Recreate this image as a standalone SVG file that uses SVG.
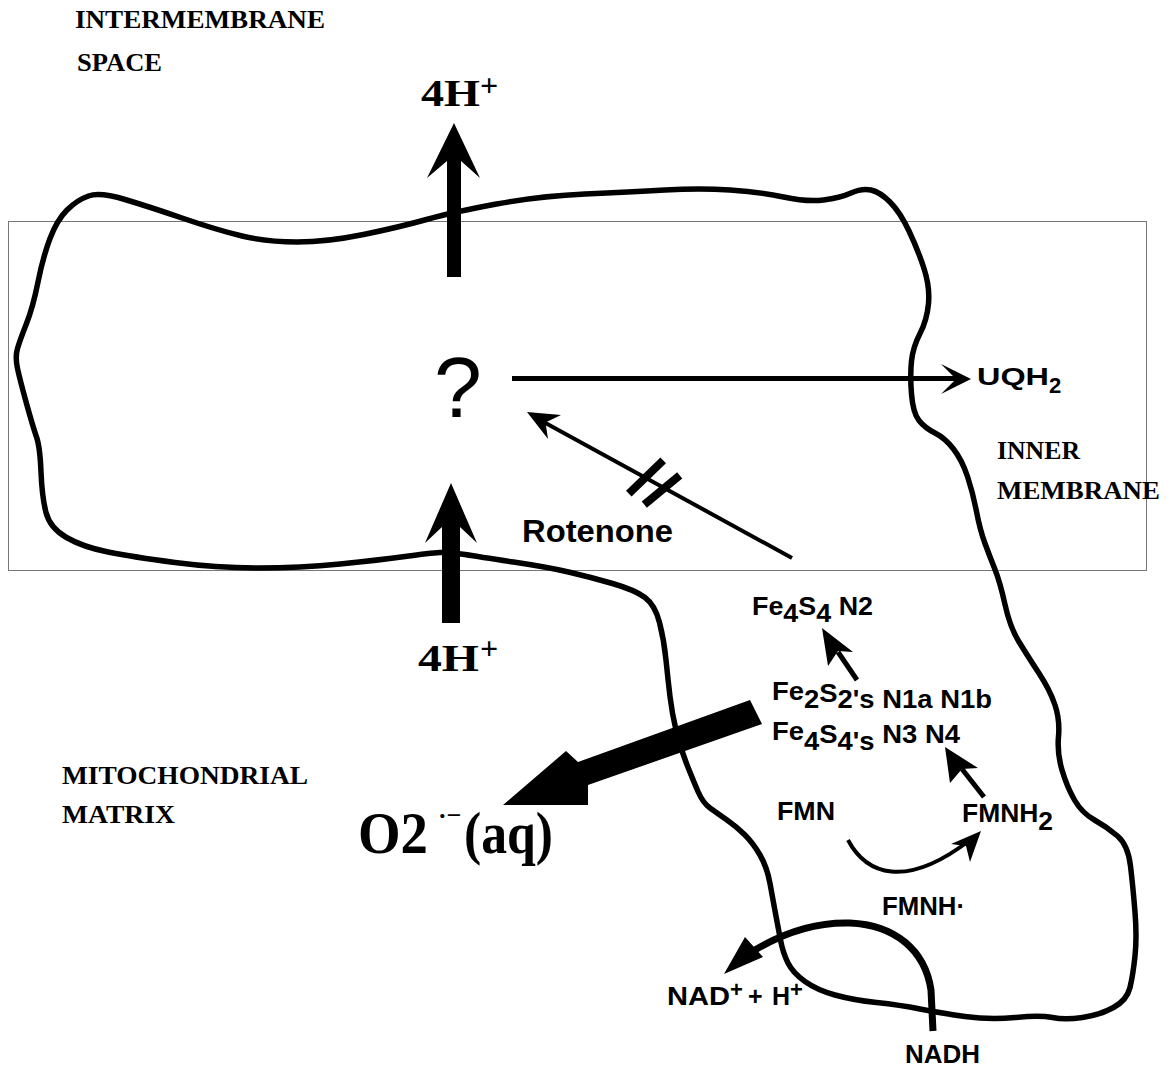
<svg xmlns="http://www.w3.org/2000/svg" width="1169" height="1072" viewBox="0 0 1169 1072">
  <style>
    .serif { font-family: "Liberation Serif", "Times New Roman", serif; font-weight: bold; fill: #000; }
    .sans { font-family: "Liberation Sans", Arial, sans-serif; font-weight: bold; fill: #000; }
    .region { font-size: 26px; }
    .small { font-size: 25px; }
    .line { fill: none; stroke: #000; }
    .solid { fill: #000; stroke: none; }
  </style>

  <rect width="1169" height="1072" fill="#fff"/>

  <!-- inner membrane band -->
  <g id="membrane">
    <rect x="8.5" y="221.5" width="1138" height="349" fill="none" stroke="#777" stroke-width="1"/>
  </g>

  <!-- complex I outline -->
  <g id="complex-outline">
    <path class="line" stroke-width="5.5" stroke-linejoin="round" d="M88.5,196 Q100,192 125,199.5 Q150,207 183.5,218.5 Q217,230 242,236 Q267,242 297,242 Q327,242 363.5,234.5 Q400,227 426.5,219.5 Q453,212 496.5,204 Q540,196 585,194 Q630,192 665,190 Q700,188 730,190 Q760,192 783.5,197 Q807,202 823.5,200 Q840,198 851,193 Q862,188 871,190 Q880,192 890,202 Q900,212 909,231 Q918,250 924,268.5 Q930,287 928.5,303.5 Q927,320 920,333.5 Q913,347 911.5,361 Q910,375 911.5,394 Q913,413 919,420.5 Q925,428 935,433 Q945,438 953.5,449 Q962,460 967.5,476.5 Q973,493 976.5,511.5 Q980,530 985,543.5 Q990,557 995,569.5 Q1000,582 1005,604.5 Q1010,627 1018.5,641 Q1027,655 1038.5,672.5 Q1050,690 1055,705 Q1060,720 1058.5,736.5 Q1057,753 1062,770 Q1067,787 1074.5,800 Q1082,813 1094.5,820 Q1107,827 1117.5,836 Q1128,845 1130.5,866 Q1133,887 1135,912 Q1137,937 1135,956 Q1133,975 1130,987.5 Q1127,1000 1113.5,1007.5 Q1100,1015 1082.5,1017.5 Q1065,1020 1052.5,1017.5 Q1040,1015 1015,1017.5 Q990,1020 965,1016.5 Q940,1013 920,1009 Q900,1005 876.5,1002.5 Q853,1000 835,995 Q817,990 805,981.5 Q793,973 788,963 Q783,953 780.5,940 Q778,927 775.5,913.5 Q773,900 770,883.5 Q767,867 760,855 Q753,843 745,835 Q737,827 727,820 Q717,813 710,808 Q703,803 698,791.5 Q693,780 686.5,763.5 Q680,747 676,730 Q672,713 670,696.5 Q668,680 666,660 Q664,640 659.5,622.5 Q655,605 645,597.5 Q635,590 612.5,583.5 Q590,577 568.5,572 Q547,567 513.5,562 Q480,557 465,554.5 Q450,552 440,552.5 Q430,553 405,556.5 Q380,560 340,564 Q300,568 258.5,568 Q217,568 175,562.5 Q133,557 108,552 Q83,547 66.5,537.5 Q50,528 46,512.5 Q42,497 41,472 Q40,447 36.5,437 Q33,427 26.5,403.5 Q20,380 17.5,368.5 Q15,357 17.5,348.5 Q20,340 26.5,323.5 Q33,307 38,282 Q43,257 50,238.5 Q57,220 67,210 Q77,200 88.5,196 Z"/>
  </g>

  <!-- region labels -->
  <g id="label-intermembrane">
    <text class="serif region" x="75" y="28" textLength="250" lengthAdjust="spacingAndGlyphs">INTERMEMBRANE</text>
    <text class="serif region" x="77" y="71" textLength="85" lengthAdjust="spacingAndGlyphs">SPACE</text>
  </g>
  <g id="label-inner-membrane">
    <text class="serif region" x="997" y="459" textLength="83" lengthAdjust="spacingAndGlyphs">INNER</text>
    <text class="serif region" x="997" y="499" textLength="163" lengthAdjust="spacingAndGlyphs">MEMBRANE</text>
  </g>
  <g id="label-matrix">
    <text class="serif region" x="62" y="784" textLength="246" lengthAdjust="spacingAndGlyphs">MITOCHONDRIAL</text>
    <text class="serif region" x="62" y="823" textLength="113" lengthAdjust="spacingAndGlyphs">MATRIX</text>
  </g>

  <!-- species -->
  <g id="node-h-out">
    <text class="serif" font-size="37" x="421" y="106" textLength="59" lengthAdjust="spacingAndGlyphs">4H</text>
    <text class="serif" font-size="32" x="480" y="96">+</text>
  </g>
  <g id="node-h-in">
    <text class="serif" font-size="37" x="418" y="671" textLength="61" lengthAdjust="spacingAndGlyphs">4H</text>
    <text class="serif" font-size="32" x="480" y="659">+</text>
  </g>
  <g id="node-unknown">
    <text x="458" y="417" text-anchor="middle" font-family="Liberation Sans, Arial, sans-serif" font-size="86">?</text>
  </g>
  <g id="node-uqh2">
    <text class="sans" font-size="24" x="977" y="385" textLength="72" lengthAdjust="spacingAndGlyphs">UQH</text>
    <text class="sans" font-size="22" x="1049" y="393">2</text>
  </g>
  <g id="node-rotenone">
    <text class="sans" font-size="31" x="522" y="542" textLength="151" lengthAdjust="spacingAndGlyphs">Rotenone</text>
  </g>
  <g id="node-n2">
    <text class="sans small" x="752" y="615" textLength="121" lengthAdjust="spacingAndGlyphs">Fe<tspan dy="7">4</tspan><tspan dy="-7">S</tspan><tspan dy="7">4</tspan><tspan dy="-7"> N2</tspan></text>
  </g>
  <g id="node-fes-clusters">
    <text class="sans small" x="772" y="700" textLength="220" lengthAdjust="spacingAndGlyphs">Fe<tspan dy="8">2</tspan><tspan dy="-6">S</tspan><tspan dy="6">2's N1a N1b</tspan></text>
    <text class="sans small" x="772" y="740" textLength="188" lengthAdjust="spacingAndGlyphs">Fe<tspan dy="10">4</tspan><tspan dy="-7">S</tspan><tspan dy="7">4's</tspan><tspan dy="-7"> N3 N4</tspan></text>
  </g>
  <g id="node-fmn">
    <text class="sans small" x="777" y="820" textLength="58" lengthAdjust="spacingAndGlyphs">FMN</text>
  </g>
  <g id="node-fmnh2">
    <text class="sans small" x="962" y="822" textLength="91" lengthAdjust="spacingAndGlyphs">FMNH<tspan dy="8">2</tspan></text>
  </g>
  <g id="node-fmnh-radical">
    <text class="sans small" x="882" y="915" textLength="83" lengthAdjust="spacingAndGlyphs">FMNH·</text>
  </g>
  <g id="node-nad">
    <text class="sans small" x="667" y="1005" textLength="63" lengthAdjust="spacingAndGlyphs">NAD</text>
    <text class="sans" font-size="22" x="730" y="997">+</text>
    <text class="sans small" x="748" y="1005">+</text>
    <text class="sans small" x="772" y="1005">H</text>
    <text class="sans" font-size="22" x="790" y="997">+</text>
  </g>
  <g id="node-superoxide">
    <text class="serif" font-size="60" x="358" y="853" textLength="70" lengthAdjust="spacingAndGlyphs">O2</text>
    <text class="serif" font-size="26" x="438" y="824">·−</text>
    <text class="serif" font-size="60" x="464" y="853" textLength="89" lengthAdjust="spacingAndGlyphs">(aq)</text>
  </g>
  <g id="node-nadh">
    <text class="sans small" x="905" y="1063" textLength="75" lengthAdjust="spacingAndGlyphs">NADH</text>
  </g>

  <!-- connectors -->
  <g id="connectors">
    <!-- proton pumping -->
    <polygon class="solid" points="454,123 480,178 461,161 461,277 447,277 447,161 427,178"/>
    <polygon class="solid" points="451,483 477,543 460,527 460,623 442,623 442,527 425,543"/>

    <!-- electrons to ubiquinone -->
    <line class="line" x1="512" y1="378.5" x2="960" y2="378.5" stroke-width="5"/>
    <polygon class="solid" points="971,379 941,364 956,379 941,394"/>

    <!-- N2 to quinone site, blocked by rotenone -->
    <line class="line" x1="792" y1="558" x2="540" y2="420" stroke-width="4"/>
    <polygon class="solid" points="527,412 561,415 545.5,422.6 548,439"/>
    <line class="line" x1="628.8" y1="493.7" x2="663.2" y2="460.3" stroke-width="8"/>
    <line class="line" x1="644.3" y1="504.7" x2="679.7" y2="475.3" stroke-width="8"/>

    <!-- Fe-S clusters to N2 -->
    <line class="line" x1="857" y1="680" x2="838" y2="652" stroke-width="5"/>
    <polygon class="solid" points="822,628 853,652 838,651 828,666"/>

    <!-- FMNH2 to clusters -->
    <line class="line" x1="984" y1="797" x2="962" y2="769" stroke-width="5"/>
    <polygon class="solid" points="945,747 978,768 962,769 950,783"/>

    <!-- FMN reduction -->
    <path class="line" stroke-width="4" d="M848,840 C866,874 905,890 970,840"/>
    <polygon class="solid" points="981,831 951,844 966,846 970,862"/>

    <!-- NADH oxidation -->
    <path class="line" stroke-width="7" d="M933,1031 L931,990 C925,950 895,925 850,923 C815,922 785,932 755,950"/>
    <polygon class="solid" points="724,974 745,937 763,957"/>

    <!-- superoxide release -->
    <polygon class="solid" points="750,700 578,762 566,751 503,805 588,805 588,785 762,724"/>
  </g>
</svg>
